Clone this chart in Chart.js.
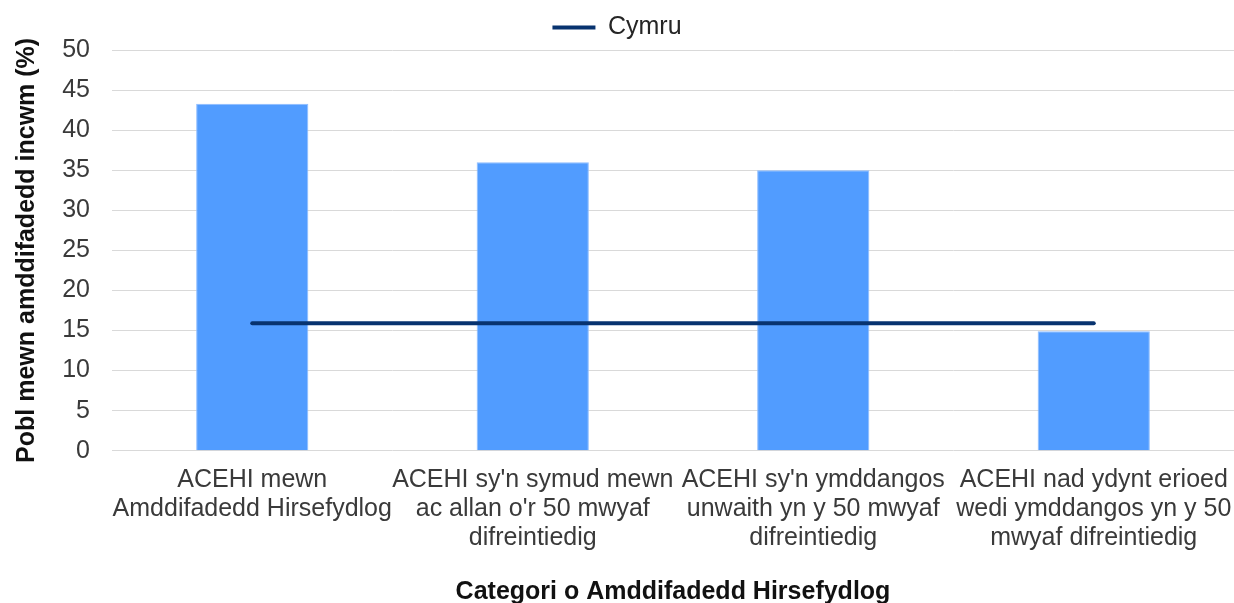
<!DOCTYPE html>
<html>
<head>
<meta charset="utf-8">
<script src="https://cdn.jsdelivr.net/npm/chart.js@4/dist/chart.umd.min.js"></script>
<style>
  html, body { margin: 0; padding: 0; background: #fff; overflow: hidden; }
  #wrap { position: absolute; left: 0; top: 0; width: 1234px; height: 603px; }
</style>
</head>
<body>
<div id="wrap"><canvas id="chart"></canvas></div>
<script>
const categories = [
  ["ACEHI mewn", "Amddifadedd Hirsefydlog"],
  ["ACEHI sy'n symud mewn", "ac allan o'r 50 mwyaf", "difreintiedig"],
  ["ACEHI sy'n ymddangos", "unwaith yn y 50 mwyaf", "difreintiedig"],
  ["ACEHI nad ydynt erioed", "wedi ymddangos yn y 50", "mwyaf difreintiedig"]
];
const groupValues = [43.3, 36.0, 35.0, 14.9];
const walesValues = [15.9, 15.9, 15.9, 15.9];
const yTicks = [0, 5, 10, 15, 20, 25, 30, 35, 40, 45, 50];

Chart.defaults.font.family = "'Liberation Sans', Arial, sans-serif";
Chart.defaults.font.size = 25;
Chart.defaults.color = "#3a3a3a";

const ctx = document.getElementById("chart").getContext("2d");
const chart = new Chart(ctx, {
  type: "bar",
  data: {
    labels: categories,
    datasets: [
      {
        type: "line",
        label: "Cymru",
        data: walesValues,
        borderColor: "#08336f",
        backgroundColor: "#08336f",
        borderWidth: 4,
        borderCapStyle: "round",
        pointRadius: 0,
        pointHoverRadius: 0,
        pointStyle: "line",
        order: 0
      },
      {
        label: "ACEHI",
        data: groupValues,
        backgroundColor: "#519cff",
        borderColor: "#8dbcff",
        borderWidth: 1,
        barPercentage: 0.4,
        categoryPercentage: 1,
        order: 1
      }
    ]
  },
  options: {
    responsive: true,
    maintainAspectRatio: false,
    animation: false,
    layout: { padding: { top: 1, right: 0, bottom: 0, left: 0 } },
    plugins: {
      legend: {
        position: "top",
        labels: {
          filter: item => item.text === "Cymru",
          usePointStyle: true,
          pointStyleWidth: 43,
          color: "#262626",
          padding: 14,
          font: { size: 25 }
        }
      },
      tooltip: { enabled: false }
    },
    scales: {
      x: {
        grid: { display: false },
        border: { display: false },
        // the long labels would otherwise push the plot in from the sides
        afterFit: axis => { axis.paddingLeft = 0; axis.paddingRight = 0; },
        ticks: {
          maxRotation: 0,
          autoSkip: false,
          padding: 7,
          color: "#3a3a3a",
          font: { size: 25, lineHeight: 1.15 }
        },
        title: {
          display: true,
          text: "Categori o Amddifadedd Hirsefydlog",
          color: "#111",
          font: { size: 25, weight: "bold", lineHeight: 0.88 },
          padding: { top: 22, bottom: 0 }
        }
      },
      y: {
        min: 0,
        max: 50,
        afterBuildTicks: axis => { axis.ticks = yTicks.map(v => ({ value: v })); },
        afterFit: axis => { axis.width = 112; },
        grid: { color: "#d9d9d9", lineWidth: 1, drawTicks: false },
        border: { display: false },
        ticks: { padding: 22, color: "#3a3a3a" },
        title: {
          display: true,
          text: "Pobl mewn amddifadedd incwm (%)",
          color: "#111",
          font: { size: 25, weight: "bold" },
          padding: { top: 12, bottom: 20 }
        }
      }
    }
  }
});
</script>
</body>
</html>
